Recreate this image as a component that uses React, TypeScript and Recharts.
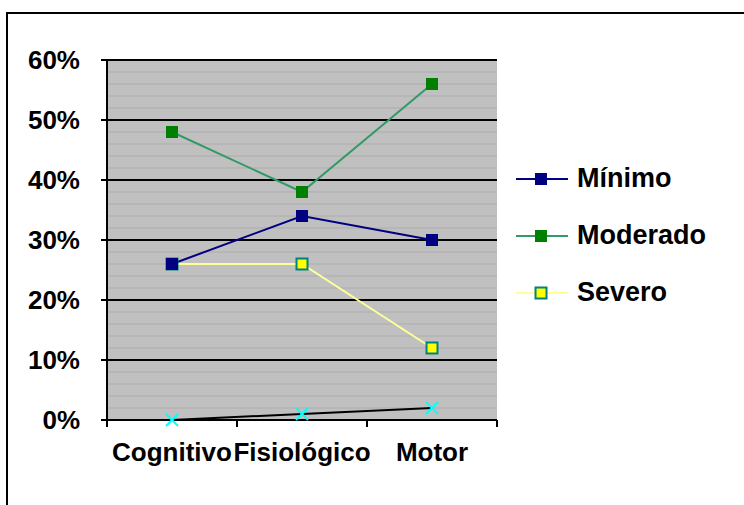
import React from "react";
import {
  CartesianGrid,
  Legend,
  Line,
  LineChart,
  XAxis,
  YAxis,
} from "recharts";

// values, in percent
const CATEGORIES = ["Cognitivo", "Fisiológico", "Motor"];
const MINIMO = [26, 34, 30];
const MODERADO = [48, 38, 56];
const SEVERO = [26, 26, 12];
const SERIE4 = [0, 1, 2];

const Y_TICKS = [0, 10, 20, 30, 40, 50, 60];
const STRIPE_TICKS = [
  0, 2, 4, 6, 8, 10, 12, 14, 16, 18, 20, 22, 24, 26, 28, 30, 32, 34, 36, 38, 40, 42, 44, 46, 48,
  50, 52, 54, 56, 58, 60,
];
const LEGEND_ORDER = ["Mínimo", "Moderado", "Severo"];

const data = CATEGORIES.map((cat, i) => ({
  cat,
  minimo: MINIMO[i],
  moderado: MODERADO[i],
  severo: SEVERO[i],
  serie4: SERIE4[i],
}));

const FONT = '"Liberation Sans", Arial, sans-serif';

type Marker = { line: string; fill: string; stroke: string };

const MARKERS: Record<string, Marker> = {
  "Mínimo": { line: "#000080", fill: "#000080", stroke: "#000080" },
  Moderado: { line: "#339966", fill: "#008000", stroke: "#008000" },
  Severo: { line: "#ffff99", fill: "#ffff00", stroke: "#008080" },
};

function squareDot(m: Marker, name: string) {
  return (p: any) => {
    if (p.cx == null || p.cy == null) return <g key={`${name}-${p.index}`} />;
    return (
      <rect
        key={`${name}-${p.index}`}
        x={p.cx - 5.5}
        y={p.cy - 5.5}
        width={11}
        height={11}
        fill={m.fill}
        stroke={m.stroke}
        strokeWidth={m.fill === m.stroke ? 1 : 2}
      />
    );
  };
}

function crossDot(p: any) {
  if (p.cx == null || p.cy == null) return <g key={`x-${p.index}`} />;
  return (
    <g key={`x-${p.index}`} stroke="#00ffff" strokeWidth={2}>
      <line x1={p.cx - 6} y1={p.cy - 6} x2={p.cx + 6} y2={p.cy + 6} />
      <line x1={p.cx - 6} y1={p.cy + 6} x2={p.cx + 6} y2={p.cy - 6} />
    </g>
  );
}

// category label in the middle of its band, tick marks on the band edges (Excel style)
function CategoryTick(props: any) {
  const { x, y, payload, index, visibleTicksCount } = props;
  const half = payload.offset ?? 0;
  const top = y - 16 - 7;
  const bottom = y - 16;
  return (
    <g>
      <line x1={x - half} y1={top} x2={x - half} y2={bottom} stroke="#000" strokeWidth={2} />
      {index === visibleTicksCount - 1 && (
        <line x1={x + half} y1={top} x2={x + half} y2={bottom} stroke="#000" strokeWidth={2} />
      )}
      <text
        x={x}
        y={y}
        dy="0.71em"
        textAnchor="middle"
        fontFamily={FONT}
        fontWeight="bold"
        fontSize={26}
        fill="#000"
      >
        {payload.value}
      </text>
    </g>
  );
}

function LegendBox({ payload }: any) {
  const items = LEGEND_ORDER.map((name) => (payload || []).find((e: any) => e.value === name)).filter(
    Boolean
  );
  return (
    <div style={{ fontFamily: FONT }}>
      {items.map((e: any) => {
        const m = MARKERS[e.value];
        return (
          <div key={e.value} style={{ display: "flex", alignItems: "center", height: 57 }}>
            <svg width={62} height={20} style={{ display: "block" }}>
              <line x1={1} y1={10} x2={53} y2={10} stroke={m.line} strokeWidth={2} />
              <rect
                x={20.5}
                y={4.5}
                width={11}
                height={11}
                fill={m.fill}
                stroke={m.stroke}
                strokeWidth={m.fill === m.stroke ? 1 : 2}
              />
            </svg>
            <span style={{ fontSize: 27, fontWeight: "bold", color: "#000" }}>{e.value}</span>
          </div>
        );
      })}
    </div>
  );
}

export default function App() {
  return (
    <div
      style={{
        position: "fixed",
        left: 0,
        top: 0,
        width: 744,
        height: 505,
        overflow: "hidden",
        background: "#fff",
      }}
    >
      <div
        style={{
          position: "absolute",
          left: 6,
          top: 12,
          width: 780,
          height: 540,
          border: "2px solid #000",
        }}
      />
      <div style={{ position: "absolute", left: 0, top: 0 }}>
        <LineChart
          width={744}
          height={505}
          data={data}
          margin={{ top: 60, right: 247, bottom: 35, left: 0 }}
        >
          {/* Excel plot-area pattern: grey fill with thin darker stripes every 2% */}
          <CartesianGrid
            vertical={false}
            fill="#c0c0c0"
            stroke="#b3b3b3"
            strokeWidth={1.5}
            horizontalValues={STRIPE_TICKS}
          />
          <CartesianGrid vertical={false} stroke="#000" strokeWidth={2} />
          <XAxis
            dataKey="cat"
            scale="band"
            interval={0}
            height={50}
            tickLine={false}
            tickSize={7}
            tickMargin={16}
            axisLine={{ stroke: "#000", strokeWidth: 2 }}
            tick={<CategoryTick />}
          />
          <XAxis
            xAxisId="top"
            dataKey="cat"
            orientation="top"
            height={0}
            tick={false}
            tickLine={false}
            axisLine={{ stroke: "#808080", strokeWidth: 2 }}
          />
          <YAxis
            width={107}
            domain={[0, 60]}
            ticks={Y_TICKS}
            interval={0}
            tickFormatter={(v) => `${v}%`}
            tickSize={6}
            tickMargin={21}
            axisLine={{ stroke: "#000", strokeWidth: 2 }}
            tickLine={{ stroke: "#000", strokeWidth: 2 }}
            tick={{ fill: "#000", fontSize: 26, fontWeight: "bold", fontFamily: FONT }}
          />
          <YAxis
            yAxisId="edge"
            orientation="right"
            width={0}
            domain={[0, 60]}
            tick={false}
            tickLine={false}
            axisLine={{ stroke: "#808080", strokeWidth: 2 }}
          />
          <Legend
            layout="horizontal"
            verticalAlign="middle"
            align="center"
            wrapperStyle={{ left: 515, top: 150, width: 225 }}
            content={<LegendBox />}
          />
          <Line
            dataKey="serie4"
            name="Serie4"
            legendType="none"
            stroke="#000"
            strokeWidth={2}
            dot={crossDot}
            isAnimationActive={false}
          />
          <Line
            dataKey="severo"
            name="Severo"
            stroke={MARKERS.Severo.line}
            strokeWidth={2}
            dot={squareDot(MARKERS.Severo, "sev")}
            isAnimationActive={false}
          />
          <Line
            dataKey="minimo"
            name="Mínimo"
            stroke={MARKERS["Mínimo"].line}
            strokeWidth={2}
            dot={squareDot(MARKERS["Mínimo"], "min")}
            isAnimationActive={false}
          />
          <Line
            dataKey="moderado"
            name="Moderado"
            stroke={MARKERS.Moderado.line}
            strokeWidth={2}
            dot={squareDot(MARKERS.Moderado, "mod")}
            isAnimationActive={false}
          />
        </LineChart>
      </div>
    </div>
  );
}
